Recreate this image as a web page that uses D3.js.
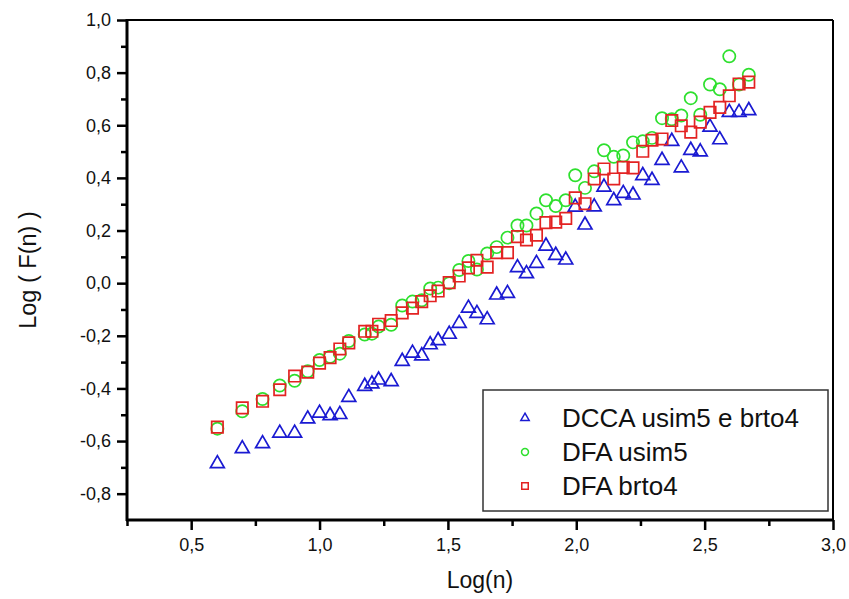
<!DOCTYPE html>
<html><head><meta charset="utf-8">
<script src="https://cdn.jsdelivr.net/npm/d3@7"></script>
<style>html,body{margin:0;padding:0;background:#fff;}svg{display:block;}</style>
</head><body>
<script>
// ---- data ----
const logN = [0.602, 0.699, 0.778, 0.845, 0.903, 0.954, 1.000, 1.041, 1.079, 1.114,
  1.176, 1.204, 1.230, 1.279, 1.322, 1.362, 1.398, 1.431, 1.462, 1.505,
  1.544, 1.580, 1.613, 1.653, 1.690, 1.732, 1.771, 1.806, 1.845, 1.882,
  1.920, 1.959, 1.996, 2.034, 2.070, 2.108, 2.146, 2.183, 2.221, 2.259,
  2.295, 2.334, 2.372, 2.409, 2.446, 2.483, 2.521, 2.559, 2.596, 2.634, 2.672];
const dcca = [-0.686, -0.629, -0.610, -0.570, -0.570, -0.516, -0.494, -0.503, -0.499, -0.434,
  -0.392, -0.383, -0.368, -0.374, -0.297, -0.266, -0.276, -0.234, -0.218, -0.194,
  -0.153, -0.095, -0.115, -0.139, -0.045, -0.039, 0.059, 0.036, 0.075, 0.141,
  0.106, 0.088, 0.289, 0.221, 0.290, 0.365, 0.314, 0.341, 0.335, 0.409,
  0.391, 0.467, 0.539, 0.438, 0.505, 0.499, 0.593, 0.545, 0.649, 0.649, 0.656];
const dfaUsim5 = [-0.553, -0.487, -0.440, -0.389, -0.371, -0.335, -0.292, -0.280, -0.268, -0.220,
  -0.195, -0.192, -0.165, -0.158, -0.085, -0.070, -0.065, -0.020, -0.017, 0.000,
  0.050, 0.084, 0.052, 0.113, 0.137, 0.173, 0.219, 0.219, 0.265, 0.315,
  0.293, 0.315, 0.410, 0.362, 0.425, 0.505, 0.480, 0.485, 0.535, 0.539,
  0.552, 0.627, 0.623, 0.637, 0.703, 0.640, 0.755, 0.737, 0.862, 0.755, 0.792];
const dfaBrto4 = [-0.547, -0.474, -0.449, -0.405, -0.353, -0.338, -0.304, -0.283, -0.250, -0.227,
  -0.183, -0.183, -0.156, -0.142, -0.113, -0.095, -0.070, -0.048, -0.030, 0.002,
  0.027, 0.058, 0.087, 0.061, 0.116, 0.116, 0.177, 0.164, 0.182, 0.230,
  0.232, 0.246, 0.324, 0.302, 0.396, 0.434, 0.396, 0.440, 0.438, 0.501,
  0.543, 0.548, 0.618, 0.598, 0.574, 0.612, 0.649, 0.668, 0.712, 0.757, 0.764];
const xTicks = [0.5, 1.0, 1.5, 2.0, 2.5, 3.0];
const xMinor = [0.25, 0.75, 1.25, 1.75, 2.25, 2.75];
const yTicks = [-0.8, -0.6, -0.4, -0.2, 0.0, 0.2, 0.4, 0.6, 0.8, 1.0];
const yMinor = [-0.7, -0.5, -0.3, -0.1, 0.1, 0.3, 0.5, 0.7, 0.9];
const seriesNames = ["DCCA usim5 e brto4", "DFA usim5", "DFA brto4"];
const seriesColors = ["#1a1ad2", "#2ee02e", "#e32222"];

// ---- chart ----
const W = 849, H = 599;
const L = 127, R = 833, T = 20, B = 520;
const svg = d3.select("body").append("svg").attr("width", W).attr("height", H);
const font = "'Liberation Sans', Arial, sans-serif";

const x = d3.scaleLinear().domain([0.25, 3.0]).range([L, R]);
const y = d3.scaleLinear().domain([-0.9, 1.0]).range([B, T]);
const fmt = d => d3.format(".1f")(d).replace(".", ",").replace("\u2212", "-");

// frame (top, right)
svg.append("line").attr("x1", L).attr("x2", R).attr("y1", T).attr("y2", T)
  .attr("stroke", "#000").attr("stroke-width", 2);
svg.append("line").attr("x1", R).attr("x2", R).attr("y1", T).attr("y2", B)
  .attr("stroke", "#000").attr("stroke-width", 2);

// axes
function styleAxis(g) {
  g.select(".domain").remove();
  g.selectAll(".tick line").attr("stroke", "#000").attr("stroke-width", 2.5);
  g.selectAll(".tick text").attr("font-family", font).attr("font-size", 18).attr("fill", "#111");
}
const gx = svg.append("g").attr("transform", `translate(0,${B})`)
  .call(d3.axisBottom(x).tickValues(xTicks).tickSize(10).tickPadding(8).tickFormat(fmt));
styleAxis(gx);
const gxm = svg.append("g").attr("transform", `translate(0,${B})`)
  .call(d3.axisBottom(x).tickValues(xMinor).tickSize(6).tickFormat(""));
styleAxis(gxm);
const gy = svg.append("g").attr("transform", `translate(${L},0)`)
  .call(d3.axisLeft(y).tickValues(yTicks).tickSize(10).tickPadding(6).tickFormat(fmt));
styleAxis(gy);
const gym = svg.append("g").attr("transform", `translate(${L},0)`)
  .call(d3.axisLeft(y).tickValues(yMinor).tickSize(6).tickFormat(""));
styleAxis(gym);

svg.append("line").attr("x1", L - 1).attr("x2", R + 1).attr("y1", B).attr("y2", B)
  .attr("stroke", "#000").attr("stroke-width", 3);
svg.append("line").attr("x1", L).attr("x2", L).attr("y1", T - 1).attr("y2", B + 1)
  .attr("stroke", "#000").attr("stroke-width", 3);

// axis titles
svg.append("text").attr("x", (L + R) / 2).attr("y", 588).attr("text-anchor", "middle")
  .attr("font-family", font).attr("font-size", 23).attr("fill", "#111").text("Log(n)");
svg.append("text").attr("transform", `translate(36,${(T + B) / 2}) rotate(-90)`)
  .attr("text-anchor", "middle").attr("font-family", font).attr("font-size", 23.5)
  .attr("fill", "#111").text("Log ( F(n) )");

// markers
const symTypes = [d3.symbolTriangle, d3.symbolCircle, d3.symbolSquare];
const symSizes = [84, 118, 130];
const legendSizes = [30, 38, 42];
const allSeries = [dcca, dfaUsim5, dfaBrto4];

allSeries.forEach((vals, si) => {
  svg.append("g").selectAll("path").data(vals).join("path")
    .attr("transform", (d, i) => `translate(${x(logN[i])},${y(d)})`)
    .attr("d", d3.symbol().type(symTypes[si]).size(symSizes[si]))
    .attr("fill", "none").attr("stroke", seriesColors[si]).attr("stroke-width", 1.7);
});

// legend
const lg = svg.append("g");
lg.append("rect").attr("x", 483).attr("y", 390).attr("width", 345).attr("height", 121)
  .attr("fill", "#fff").attr("stroke", "#333").attr("stroke-width", 1.5);
seriesNames.forEach((name, i) => {
  const cy = 418 + i * 34;
  lg.append("path").attr("transform", `translate(525,${cy})`)
    .attr("d", d3.symbol().type(symTypes[i]).size(legendSizes[i]))
    .attr("fill", "none").attr("stroke", seriesColors[i]).attr("stroke-width", 1.5);
  lg.append("text").attr("x", 562).attr("y", cy + 9).attr("font-family", font)
    .attr("font-size", 26).attr("fill", "#111").text(name);
});
</script>
</body></html>
